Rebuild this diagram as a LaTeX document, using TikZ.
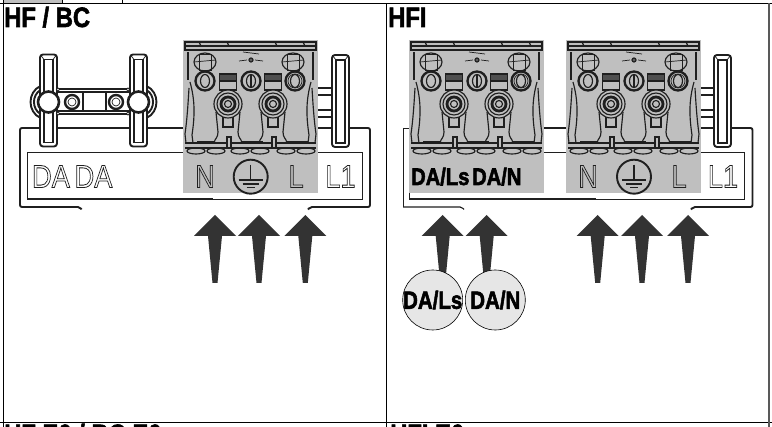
\documentclass[tikz,border=0pt]{standalone}
\usepackage{fontspec}
\setmainfont{Liberation Sans}
\definecolor{blockgray}{HTML}{BFBFBF}
\definecolor{inkdark}{HTML}{1F1F1F}
\definecolor{arrowdark}{HTML}{333333}
\definecolor{markgray}{HTML}{E6E6E6}
\newcommand{\outlined}[1]{\special{pdf:code 1 Tr 0.8 w}#1\special{pdf:code 0 Tr}}
\newcommand{\fattened}[1]{\special{pdf:code 2 Tr 0.6 w}#1\special{pdf:code 0 Tr}}
\tikzset{
    ink/.style={draw=inkdark, line width=1.15pt},
    thinink/.style={draw=inkdark, line width=0.7pt},
    heavyink/.style={draw=inkdark, line width=1.9pt},
    frameline/.style={draw=black, line width=1pt},
    title/.style={font=\bfseries\fontsize{28}{28}\selectfont, anchor=base west, inner sep=0pt, xscale=.85, transform shape},
    contact/.style={font=\fontsize{32}{32}\selectfont, text=inkdark, inner sep=0pt, xscale=.85, transform shape},
    damark/.style={font=\bfseries\fontsize{24}{24}\selectfont, inner sep=0pt, xscale=.84, transform shape},
    dacircle/.style={circle, draw=black, line width=0.6pt, fill=markgray, minimum size=60pt, inner sep=0pt},
    dalabel/.style={font=\bfseries\fontsize{25}{25}\selectfont, inner sep=0pt, xscale=.82, transform shape},
    terminal/.pic={
        \fill[blockgray] (0,0) rectangle (135,153);
        % top bar
        \draw[draw=inkdark, line width=1.5pt] (2,2) -- (133,2) (2,10) -- (133,10);
        \draw[ink] (2,6) -- (133,6);
        \foreach \x in {16, 44, 92, 120}
            \draw[ink] (\x,2) -- (\x+2,6);
        \draw[heavyink] (2,1) -- (2,11) (133,1) -- (133,11);
        % sides
        \draw[draw=inkdark, line width=2.6pt] (5,12) -- (5,40) (130,12) -- (130,40);
        \draw[ink] (7,42) .. controls (12,60) and (12,75) .. (9,95) -- (10,103);
        \draw[ink] (6,48) .. controls (5,65) and (4,80) .. (2,94) -- (3,103);
        \draw[ink] (128,42) .. controls (123,60) and (123,75) .. (126,95) -- (125,103);
        \draw[ink] (129,48) .. controls (130,65) and (131,80) .. (133,94) -- (132,103);
        % ears and rings
        \foreach \x in {22, 110} {
            \draw[ink] (\x,22) ellipse (11 and 9);
            \draw[thinink] (\x-6,14) rectangle (\x+6,30);
            \draw[thinink] (\x-11,22) -- (\x+11,20);
        }
        \draw[thinink] (56,21) -- (64,20) (72,20) -- (80,21) (60,12) -- (76,14);
        \draw[ink, fill=inkdark!60!blockgray] (68,20) circle (2);
        \foreach \x in {22, 68, 112} {
            \draw[draw=inkdark, line width=2.3pt] (\x,41) circle (9.5);
            \draw[ink] (\x,41) ellipse (4.5 and 6.5);
        }
        \draw[ink] (68,35) -- (68,47);
        \draw[thinink] (112,41) circle (7);
        % bolts and feet
        \foreach \x in {45, 90} {
            \draw[heavyink] (\x-8.5,34) rectangle (\x+8.5,50);
            \draw[ink] (\x-8.5,41) -- (\x+8.5,41);
            \fill[inkdark!70!blockgray] (\x-8,35) rectangle (\x+8,40);
            \draw[ink] (\x-12,72) -- (\x-10,92) (\x+12,72) -- (\x+10,92);
            \draw[ink] (\x-10,92) .. controls (\x-10,98) and (\x-13,98) .. (\x-14,103);
            \draw[ink] (\x+10,92) .. controls (\x+10,98) and (\x+13,98) .. (\x+14,103);
            \draw[ink] (\x-5,77) rectangle (\x+5,87);
            \draw[ink, fill=blockgray] (\x,64) circle (14);
            \draw[ink] (\x,64) circle (11);
            \draw[draw=inkdark, line width=2.8pt] (\x,64) circle (7);
            \draw[ink] (\x,64) circle (3.5);
        }
        % lower band
        \draw[ink, line width=1.5pt] (2,103) -- (133,103);
        \draw[ink] (2,108) -- (133,108);
        \foreach \x/\w in {14/18, 59/21, 104/21}
            \draw[draw=inkdark, line width=2.2pt] (\x,102) -- (\x+\w,102);
        \foreach \x in {44, 89}
            \draw[ink, fill=blockgray] (\x,97) rectangle (\x+4,108);
        \foreach \x in {13, 33, 57, 77, 103, 123}
            \draw[ink] (\x,111) ellipse (9 and 3);
    },
    clipbar/.pic={
        \draw[heavyink, fill=white, rounded corners=3pt] (0,0) rectangle (17,92);
        \draw[ink] (4,5) rectangle (13,88);
        \draw[thinink] (0.5,0.5) -- (4,5) (16.5,0.5) -- (13,5);
    },
    ground/.pic={
        \draw[heavyink] (0,0) circle (17);
        \draw[ink] (0,-12) -- (0,3);
        \draw[ink, line width=1.5pt] (-12,3.5) -- (12,3.5) (-8,7.5) -- (8,7.5) (-4,11) -- (4,11);
    }
}
\begin{document}
\begin{tikzpicture}[x=1pt, y=-1pt]
    \useasboundingbox (0, 0) rectangle (772, 427);
    \fill[white] (0, 0) rectangle (772, 427);

    % table lines
    \fill[blockgray] (3, 0) rectangle (62, 3);
    \draw[frameline] (62, 0) -- (62, 3) (122, 0) -- (122, 3);
    \draw[frameline] (0, 3.5) -- (772, 3.5);
    \draw[frameline] (3.5, 0) -- (3.5, 427);
    \draw[frameline] (386, 3.5) -- (386, 427);
    \draw[frameline] (0, 423) -- (772, 423);
    \draw[draw=black!65, line width=1.2pt] (769, 3.5) -- (769, 427);

    \node[title] (titlehf) at (4, 27) {\fattened{HF / BC}};
    \node[title] (titlehfi) at (388, 27) {\fattened{HFI}};
    \node[title] (titlehfzero) at (4, 444) {\fattened{HF E0 / BC E0}};
    \node[title] (titlehfizero) at (390, 444) {\fattened{HFI E0}};

    % left fixture
    \draw[heavyink, rounded corners=2pt] (81.5, 209.5) -- (80, 207) -- (20, 207) -- (20, 128)
        -- (370, 128) -- (370, 207) -- (310, 207) -- (308, 209.5);
    \draw[thinink] (27, 152) rectangle (362, 199);
    \draw[draw=inkdark, line width=1.3pt] (27, 199) -- (213, 199);

    \draw[heavyink] (48, 89) -- (138, 89) (48, 114) -- (138, 114);
    \draw[ink] (48, 92) -- (138, 92) (48, 111) -- (138, 111);
    \foreach \x in {40, 130}
        \pic at (\x, 54.5) {clipbar};
    \foreach \x/\s in {48.5/1, 138.5/-1} {
        \draw[heavyink] (\x-\s*8, 86) .. controls (\x-\s*21.3, 92) and (\x-\s*21.3, 112) .. (\x-\s*8, 118);
        \draw[heavyink] (\x-\s*8, 90) .. controls (\x-\s*16.7, 95) and (\x-\s*16.7, 109) .. (\x-\s*8, 114);
        \draw[draw=inkdark, line width=2.6pt, fill=white] (\x, 102) circle (10.5);
    }
    \foreach \x in {72, 116} {
        \draw[draw=inkdark, line width=2.4pt, fill=white] (\x, 102) circle (7);
        \draw[thinink] (\x, 102) circle (4);
    }
    \draw[heavyink, fill=white] (83, 92) rectangle (106, 111);
    \foreach \x in {58, 128} {
        \draw[thinink, fill=white] (\x, 89.5) circle (1.6);
        \draw[thinink, fill=white] (\x, 113.5) circle (1.6);
    }

    \draw[heavyink] (318, 88) -- (332, 88) (318, 95) -- (332, 95) (318, 110) -- (332, 110) (318, 117) -- (332, 117);
    \pic at (332, 55) {clipbar};
    \pic at (183, 40) {terminal};

    \node[contact] (labelda) at (51, 176.5) {\outlined{DA}};
    \node[contact] (labeldb) at (93.5, 176.5) {\outlined{DA}};
    \node[contact] (labeln) at (205, 176.5) {\outlined{N}};
    \pic at (250.7, 176.7) {ground};
    \node[contact] (labell) at (296, 176.5) {\outlined{L}};
    \node[contact] (labellone) at (340.5, 176.5) {\outlined{L1}};

    \foreach \tipx in {215, 259, 305.3}
        \fill[arrowdark, shift={(\tipx, 215)}] (0, 0) -- (21, 21) -- (7, 21) -- (2.5, 68)
            -- (-2.5, 68) -- (-7, 21) -- (-21, 21) -- cycle;

    % right fixture
    \draw[thinink] (403, 128) -- (409, 128);
    \draw[thinink, rounded corners=2pt] (403, 128) -- (403, 207);
    \draw[ink, rounded corners=2pt] (403, 207) -- (462, 207) -- (464, 209.5);
    \draw[heavyink, rounded corners=2pt] (544, 128) -- (752.5, 128) -- (752.5, 207) -- (693, 207) -- (691, 209.5);
    \draw[thinink] (409, 152) rectangle (744, 199);
    \draw[draw=inkdark, line width=1.3pt] (409, 199) -- (596, 199);

    \draw[heavyink] (701, 88) -- (714, 88) (701, 95) -- (714, 95) (701, 110) -- (714, 110) (701, 117) -- (714, 117);
    \pic at (714, 55) {clipbar};
    \foreach \x in {409, 566}
        \pic at (\x, 40) {terminal};

    \node[damark, anchor=base west] (bandls) at (411, 185) {\fattened{DA/Ls}};
    \node[damark, anchor=base west] (bandn) at (472, 185) {\fattened{DA/N}};
    \node[contact] (labelnb) at (588, 176.5) {\outlined{N}};
    \pic at (634, 176.7) {ground};
    \node[contact] (labellb) at (679, 176.5) {\outlined{L}};
    \node[contact] (labellonb) at (723, 176.5) {\outlined{L1}};

    \foreach \tipx in {442.7, 486.7, 597.7, 642, 688}
        \fill[arrowdark, shift={(\tipx, 215)}] (0, 0) -- (21, 21) -- (7, 21) -- (2.5, 68)
            -- (-2.5, 68) -- (-7, 21) -- (-21, 21) -- cycle;

    \node[dacircle] (circlels) at (432.7, 300) {};
    \node[dacircle] (circlen) at (495.3, 300) {};
    \node[dalabel] (textls) at (circlels) {\fattened{DA/Ls}};
    \node[dalabel] (textn) at (circlen) {\fattened{DA/N}};
\end{tikzpicture}
\end{document}
